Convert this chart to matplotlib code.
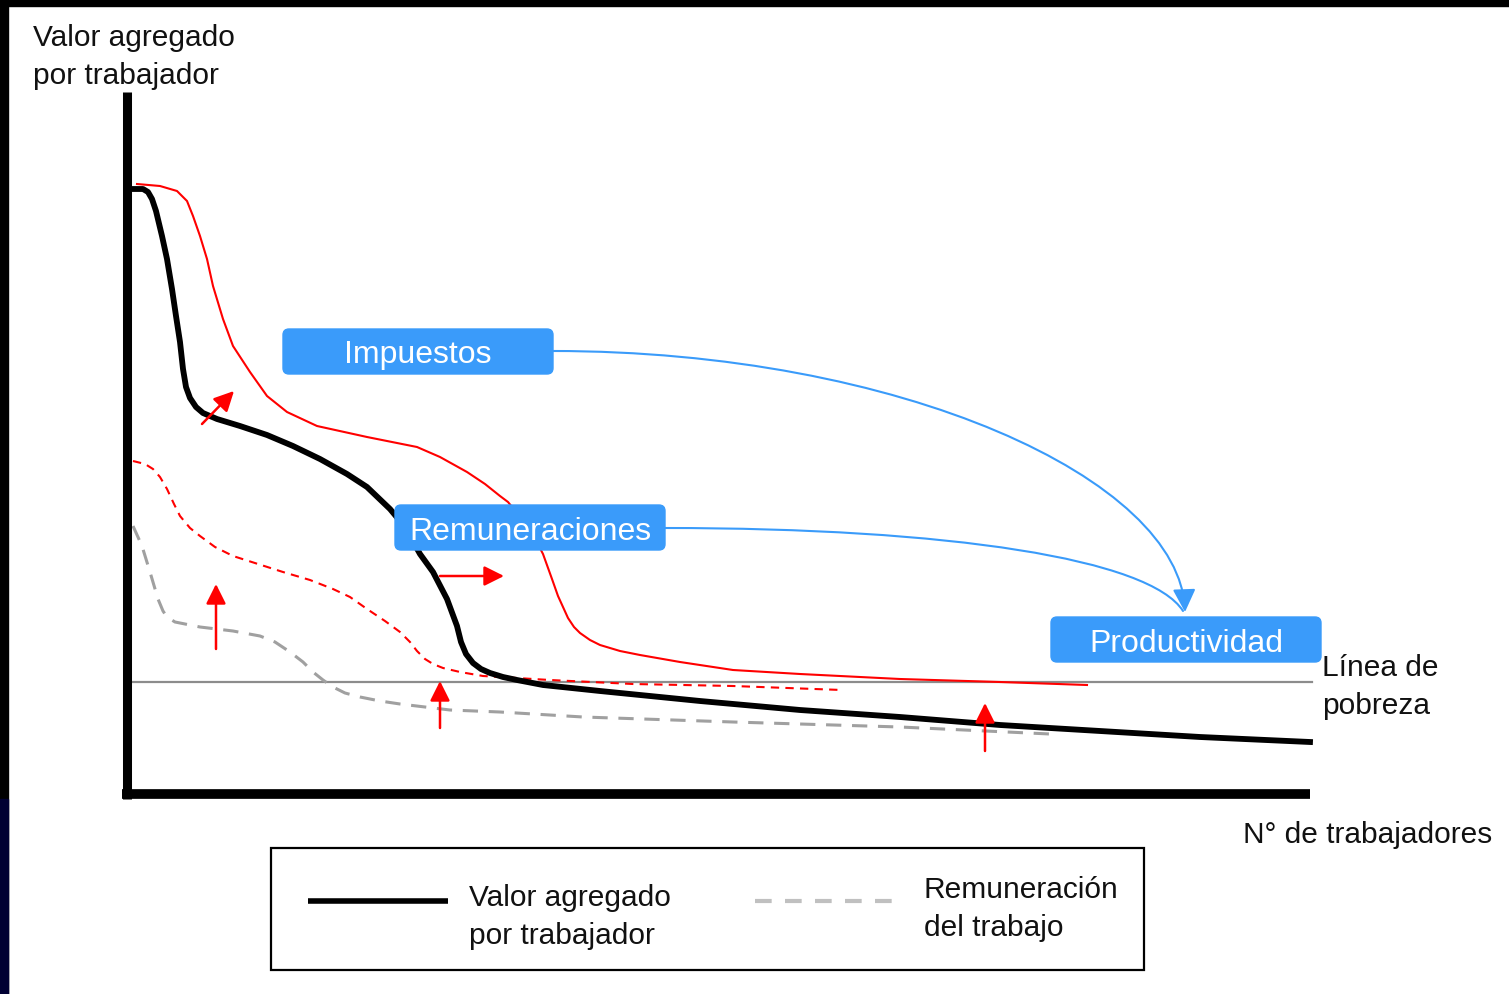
import matplotlib
matplotlib.use("Agg")
import matplotlib.pyplot as plt
from matplotlib.patches import FancyBboxPatch, Rectangle, FancyArrowPatch
from matplotlib.path import Path

plt.rcParams['font.family'] = ['Liberation Sans', 'DejaVu Sans']

# ---- data (diagram space: x = nº de trabajadores, y = valor; y grows downward) ----
va_x = [133, 143, 148, 152, 156, 162, 167, 172, 176, 180, 183, 186, 190, 196, 203, 217, 240, 267,
        293, 320, 347, 367, 390, 405, 420, 433, 447, 457, 461, 466, 473, 481, 490, 503, 517,
        543, 600, 700, 800, 900, 1000, 1100, 1200, 1310]
va_y = [190, 190, 193, 200, 212, 237, 260, 290, 317, 343, 370, 388, 399, 408, 414, 420, 427, 436,
        447, 460, 475, 488, 510, 528, 555, 573, 600, 627, 643, 655, 664, 670, 674, 678, 681,
        686, 692, 702, 711, 718, 726, 732, 738, 743]

imp_x = [137, 160, 177, 187, 193, 200, 207, 213, 223, 233, 250, 267, 287, 317, 367, 417, 440,
         467, 485, 500, 508, 530, 543, 552, 558, 563, 568, 574, 580, 590, 600, 620, 640, 680,
         733, 800, 900, 1000, 1087]
imp_y = [185, 187, 192, 202, 217, 237, 260, 287, 320, 347, 373, 397, 413, 427, 438, 448, 458,
         473, 485, 497, 503, 530, 555, 580, 597, 608, 619, 628, 634, 641, 646, 652, 656, 663,
         671, 675, 680, 683, 686]

rem_x = [133, 145, 153, 160, 167, 174, 180, 190, 200, 215, 233, 258, 283, 310, 333, 350, 367,
         385, 400, 410, 417, 425, 433, 443, 460, 483, 500, 550, 633, 733, 842]
rem_y = [462, 465, 470, 478, 490, 505, 517, 529, 537, 548, 557, 565, 573, 581, 590, 598, 610,
         622, 633, 643, 652, 660, 665, 669, 673, 677, 678, 681, 685, 687, 691]

lab_x = [133, 142, 150, 158, 163, 167, 175, 200, 233, 260, 275, 290, 303, 313, 323, 333, 345,
         360, 380, 400, 450, 500, 583, 733, 900, 1050]
lab_y = [527, 547, 573, 600, 612, 618, 623, 628, 632, 637, 643, 653, 663, 673, 681, 688, 694,
         698, 702, 705, 711, 713, 718, 723, 728, 735]

poverty_y = 683
poverty_x = [133, 1312]

# red arrows: (x_tail, y_tail, x_head, y_head)
arrows = [(202, 425, 234, 392), (216, 650, 216, 585), (440, 729, 440, 682),
          (440, 577, 504, 577), (985, 752, 985, 704)]

boxes = [("Impuestos", 283, 330, 270, 45),
         ("Remuneraciones", 395, 506, 270, 45),
         ("Productividad", 1051, 618, 270, 45)]

W, H = 1509, 995
fig = plt.figure(figsize=(W / 100, H / 100), dpi=100)
ax = fig.add_axes([0, 0, 1, 1])
ax.set_xlim(0, W)
ax.set_ylim(H, 0)
ax.axis('off')

# dark frame (top and left)
ax.add_patch(Rectangle((0, 0), W, 7, color='black', zorder=10))
ax.add_patch(Rectangle((0, 0), 8, H, color='black', zorder=10))
ax.add_patch(Rectangle((0, 800), 8, 195, color='#000033', zorder=10))

# axes
ax.plot([127, 127], [93, 800], color='black', lw=6.5, solid_capstyle='butt', zorder=3)
ax.plot([122, 1310], [795, 795], color='black', lw=7, solid_capstyle='butt', zorder=3)

# poverty line
ax.plot(poverty_x, [poverty_y, poverty_y], color='#8c8c8c', lw=1.6, zorder=2)

# curves
ax.plot(lab_x, lab_y, color='#a0a0a0', lw=2.2, dashes=(5, 3.5), zorder=2)
ax.plot(rem_x, rem_y, color='red', lw=1.5, dashes=(4, 3), zorder=3)
ax.plot(imp_x, imp_y, color='red', lw=1.5, zorder=3, solid_joinstyle='round')
ax.plot(va_x, va_y, color='black', lw=4.2, zorder=4, solid_joinstyle='round')

for x0, y0, x1, y1 in arrows:
    ax.add_patch(FancyArrowPatch((x0, y0), (x1, y1), arrowstyle='-|>,head_length=12,head_width=6',
                                 mutation_scale=1, color='red', lw=1.8, shrinkA=0, shrinkB=0,
                                 zorder=5))

# blue connectors
blue = '#3a9bfa'
p1 = Path([(553, 352), (900, 352), (1180, 480), (1185, 613)],
          [Path.MOVETO, Path.CURVE4, Path.CURVE4, Path.CURVE4])
p2 = Path([(665, 529), (950, 529), (1150, 560), (1183, 612)],
          [Path.MOVETO, Path.CURVE4, Path.CURVE4, Path.CURVE4])
ax.add_patch(FancyArrowPatch(path=p1, arrowstyle='-|>,head_length=14,head_width=7',
                             mutation_scale=1, color=blue, lw=1.5, zorder=5))
ax.add_patch(FancyArrowPatch(path=p2, arrowstyle='-', color=blue, lw=1.5, zorder=5))

for label, bx, by, bw, bh in boxes:
    ax.add_patch(FancyBboxPatch((bx, by), bw, bh, boxstyle='round,pad=0,rounding_size=6',
                                facecolor=blue, edgecolor=blue, zorder=6))
    ax.text(bx + bw / 2, by + bh / 2 + 3, label, color='white', fontsize=23,
            ha='center', va='center', zorder=7)

# texts
fs = 21.5
ax.text(33, 57, "Valor agregado\npor trabajador", fontsize=fs, ha='left', va='center',
        linespacing=1.5, color='#111111')
ax.text(1322, 687, "Línea de\npobreza", fontsize=fs, ha='left', va='center',
        linespacing=1.5, color='#111111')
ax.text(1243, 835, "N° de trabajadores", fontsize=fs, ha='left', va='center',
        color='#111111')

# legend
ax.add_patch(Rectangle((271, 849), 873, 122, fill=False, edgecolor='black', lw=1.6, zorder=3))
ax.plot([308, 448], [902, 902], color='black', lw=4, solid_capstyle='butt')
ax.text(469, 917, "Valor agregado\npor trabajador", fontsize=fs, ha='left', va='center',
        linespacing=1.5, color='#111111')
ax.plot([755, 893], [902, 902], color='#c0c0c0', lw=3, dashes=(4, 3.2))
ax.text(924, 909, "Remuneración\ndel trabajo", fontsize=fs, ha='left', va='center',
        linespacing=1.5, color='#111111')

fig.savefig('out.png', dpi=100, facecolor='white')
